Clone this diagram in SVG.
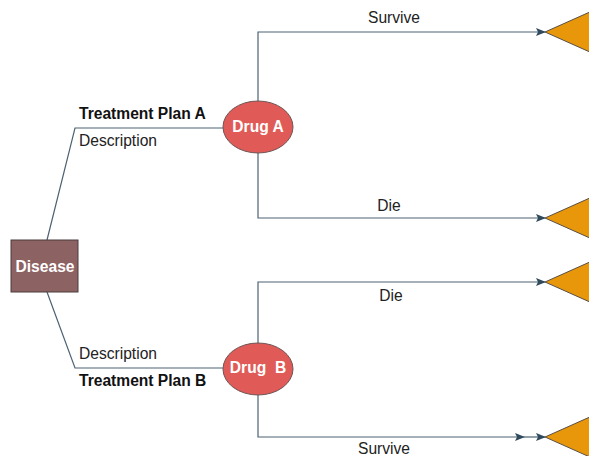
<svg xmlns="http://www.w3.org/2000/svg" width="589" height="456" viewBox="0 0 589 456">
<defs>
<marker id="arr" markerWidth="10" markerHeight="8" refX="9" refY="4" orient="auto" markerUnits="userSpaceOnUse">
<path d="M0,0 L10,4 L0,8 L2,4 Z" fill="#2f4a5c"/>
</marker>
<style>
.ln{fill:none;stroke:#4d6272;stroke-width:1.2}
.tri{fill:#e8970b;stroke:#5a5048;stroke-width:1}
.drug{fill:#e05b57;stroke:#6e5555;stroke-width:1}
.wt{font-family:"Liberation Sans",Arial,sans-serif;font-weight:bold;font-size:15.6px;fill:#ffffff;text-anchor:middle}
.lb{font-family:"Liberation Sans",Arial,sans-serif;font-size:15.6px;fill:#222222}
.bd{font-family:"Liberation Sans",Arial,sans-serif;font-size:15.6px;font-weight:bold;fill:#111111}
</style>
</defs>
<rect width="589" height="456" fill="#ffffff"/>
<g id="connectors">
<path class="ln" d="M47,240 L75,128 L223,128"/>
<path class="ln" d="M47,292 L75,368 L223,368"/>
<path class="ln" d="M258,101 L258,32 L545,32" marker-end="url(#arr)"/>
<path class="ln" d="M258,153 L258,218 L545,218" marker-end="url(#arr)"/>
<path class="ln" d="M258,343 L258,282 L545,282" marker-end="url(#arr)"/>
<path class="ln" d="M258,395 L258,437 L524,437" marker-end="url(#arr)"/>
<path class="ln" d="M524,437 L545,437" marker-end="url(#arr)"/>
</g>
<g id="labels">
<text class="bd" x="79" y="119">Treatment Plan A</text>
<text class="lb" x="79" y="146">Description</text>
<text class="lb" x="79" y="359">Description</text>
<text class="bd" x="79" y="386">Treatment Plan B</text>
<text class="lb" x="394" y="23" text-anchor="middle">Survive</text>
<text class="lb" x="389" y="211" text-anchor="middle">Die</text>
<text class="lb" x="391" y="301" text-anchor="middle">Die</text>
<text class="lb" x="384" y="454" text-anchor="middle">Survive</text>
</g>
<g id="disease">
<rect x="11" y="240" width="67" height="52" fill="#8d6262" stroke="#4a3d3d" stroke-width="1"/>
<text class="wt" x="45" y="272">Disease</text>
</g>
<g id="drugA">
<ellipse class="drug" cx="258" cy="127" rx="35" ry="26"/>
<text class="wt" x="258" y="132">Drug A</text>
</g>
<g id="drugB">
<ellipse class="drug" cx="258" cy="369" rx="35" ry="26"/>
<text class="wt" x="258" y="373" xml:space="preserve">Drug  B</text>
</g>
<g id="outcome1"><polygon class="tri" points="545,32 610,3 610,61"/></g>
<g id="outcome2"><polygon class="tri" points="545,218 610,189 610,247"/></g>
<g id="outcome3"><polygon class="tri" points="545,282 610,253 610,311"/></g>
<g id="outcome4"><polygon class="tri" points="545,437 610,408 610,466"/></g>
</svg>
